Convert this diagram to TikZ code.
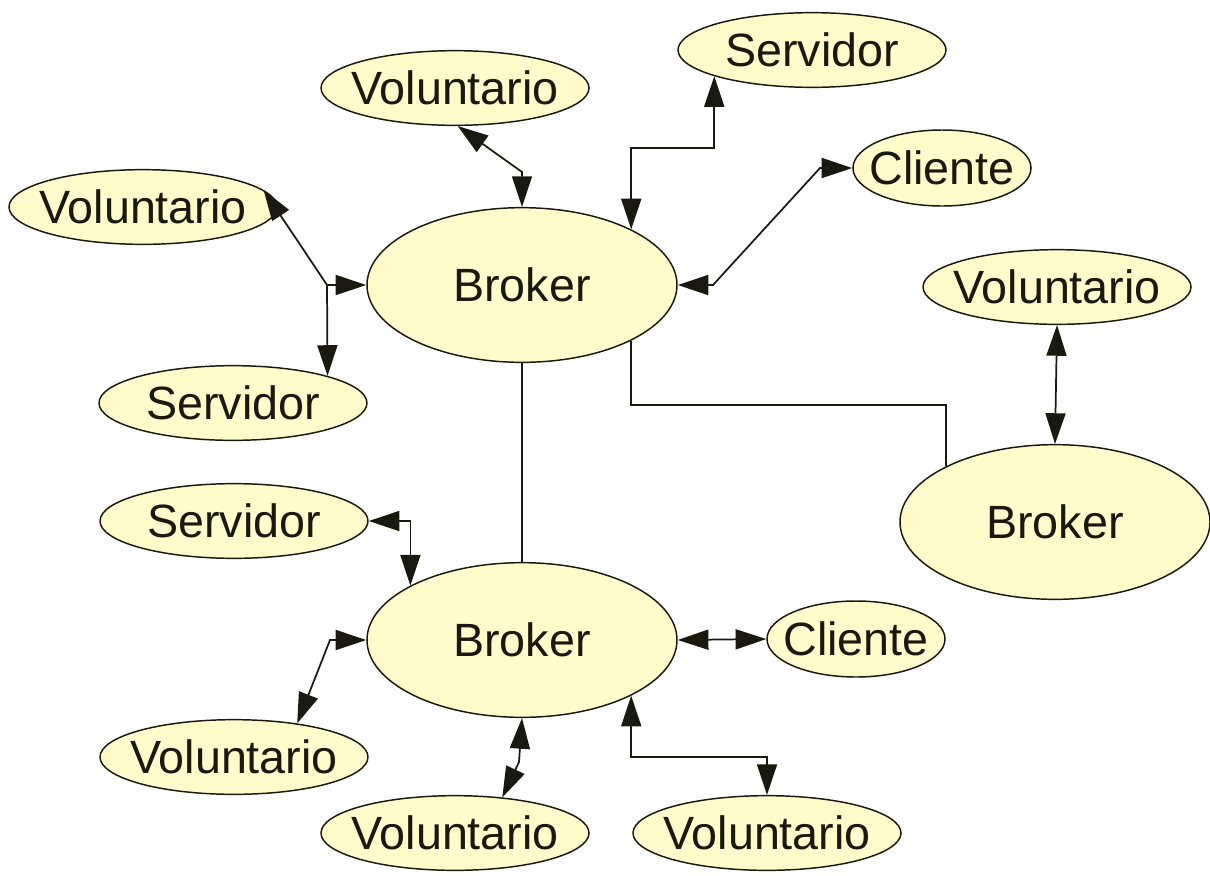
\documentclass[tikz,border=0pt]{standalone}
\usepackage{fontspec}
\setmainfont{Liberation Sans}
\usetikzlibrary{shapes.geometric,arrows.meta}
\definecolor{nodefill}{RGB}{255,252,204}
\definecolor{inkcol}{RGB}{25,25,15}
\tikzset{
  ell/.style={ellipse, draw=inkcol, line width=1.1pt, fill=nodefill, inner sep=0pt,
              font=\fontsize{35}{40}\selectfont, text=inkcol},
  small/.style={ell, minimum width=201pt, minimum height=56pt},
  cli/.style={ell, minimum width=133.5pt, minimum height=57pt},
  brk/.style={ell, minimum width=232.5pt, minimum height=116pt},
  link/.style={draw=inkcol, line width=1.3pt},
  both/.style={link, {Triangle[length=23pt,width=15pt]}-{Triangle[length=23pt,width=15pt]}},
  fwd/.style={link, -{Triangle[length=23pt,width=15pt]}},
}
\newcommand{\lbl}[1]{\makebox[0pt]{#1}}
\begin{document}
\begin{tikzpicture}[x=0.75pt,y=-0.75pt]
\useasboundingbox (0,0) rectangle (1210,875);

% brokers
\node[brk] (B1) at (522,285) {\lbl{Broker}};
\node[brk] (B2) at (522,640) {\lbl{Broker}};
\node[brk] (B3) at (1055,522) {\lbl{Broker}};

% nodes around the upper broker
\node[small] (V1) at (455,88)  {\lbl{Voluntario}};
\node[small] (S1) at (812,50)  {\lbl{Servidor}};
\node[cli]   (C1) at (942,168) {\lbl{Cliente}};
\node[small] (V2) at (143,207) {\lbl{Voluntario}};
\node[small] (S2) at (233,403) {\lbl{Servidor}};

% node of the right broker
\node[small] (V3) at (1057,287) {\lbl{Voluntario}};

% nodes around the lower broker
\node[small] (S3) at (234,521) {\lbl{Servidor}};
\node[cli]   (C2) at (856,639) {\lbl{Cliente}};
\node[small] (V4) at (234,757) {\lbl{Voluntario}};
\node[small] (V5) at (455,833) {\lbl{Voluntario}};
\node[small] (V6) at (767,833) {\lbl{Voluntario}};

% bend points
\coordinate (c1) at (522,172);
\coordinate (k2) at (S1.195 |- 0,148);
\coordinate (k3a) at (713,285);
\coordinate (k3b) at (820,168);
\coordinate (j4) at (327,285);
\coordinate (k5) at (800,405);
\coordinate (j9) at (330,640);
\coordinate (j11) at (519,762);
\coordinate (k12) at (700,757);

% upper broker links
\draw[both] (V1.-86) -- (c1) -- (B1.north);
\draw[both] (B1.27) |- (k2) -- (S1.195);
\draw[both] (B1.east) -- (k3a) -- (k3b) -- (C1.west);
\draw[both] (V2.8) -- (j4) -- (B1.west);
\draw[fwd] (j4) -- (S2.16);

% broker to broker
\draw[link] (B1.-27) |- (k5) -| (B3.153);
\draw[link] (B1.south) -- (B2.north);

% right broker link
\draw[both] (V3.south) -- (B3.north);

% lower broker links
\draw[both] (S3.east) -| (B2.154);
\draw[both] (V4.28) -- (j9) -- (B2.west);
\draw[both] (B2.east) -- (C2.west);
\draw[both] (B2.south) -- (j11) -- (V5.37);
\draw[both] (B2.-27) |- (k12) -| (V6.north);
\end{tikzpicture}
\end{document}
